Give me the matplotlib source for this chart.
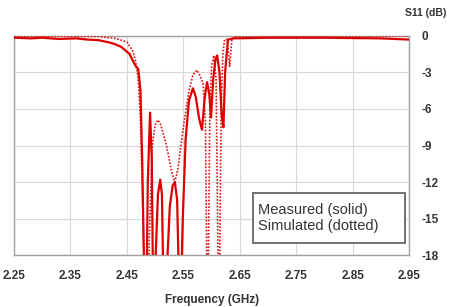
import numpy as np
import matplotlib.pyplot as plt
from matplotlib.patches import Rectangle

# measured S11 (solid), GHz / dB
meas_f = [2.25, 2.28, 2.30, 2.33, 2.36, 2.38, 2.40, 2.41, 2.42, 2.43, 2.44, 2.45,
          2.455, 2.46, 2.466, 2.470, 2.474, 2.477, 2.480, 2.484, 2.487,
          2.491, 2.494, 2.497, 2.501, 2.505, 2.509, 2.512, 2.516, 2.521, 2.526,
          2.531, 2.535, 2.539, 2.544, 2.549, 2.554, 2.560, 2.567, 2.572, 2.578,
          2.583, 2.588, 2.592, 2.596, 2.599, 2.603, 2.607, 2.610, 2.614, 2.618,
          2.621, 2.624, 2.629, 2.64, 2.70, 2.80, 2.90, 2.95]
meas_db = [-0.15, -0.2, -0.15, -0.25, -0.2, -0.3, -0.35, -0.45, -0.55, -0.7, -0.9, -1.3,
           -1.5, -2.0, -2.5, -2.7, -4.5, -10, -18, -24, -12,
           -6.3, -10, -24, -18, -13, -11.8, -13, -24, -19, -14,
           -12.3, -12, -13.5, -24, -15, -8.5, -5.3, -4.3, -5.0, -6.8,
           -7.7, -5, -3.8, -4.8, -6.7, -3.5, -1.9, -1.6, -3, -6.5,
           -7.5, -3, -0.3, -0.2, -0.15, -0.15, -0.2, -0.3]

# simulated S11 (dotted)
sim_f = [2.25, 2.40, 2.43, 2.45, 2.46, 2.465, 2.47, 2.474, 2.478, 2.482, 2.486,
         2.490, 2.495, 2.500, 2.505, 2.51, 2.52, 2.53, 2.535, 2.54, 2.55, 2.56,
         2.567, 2.574, 2.580, 2.585, 2.589, 2.593, 2.597, 2.600, 2.604, 2.608,
         2.613, 2.617, 2.620, 2.623, 2.628, 2.632, 2.636, 2.64, 2.65, 2.95]
sim_db = [0, -0.05, -0.2, -0.5, -1.2, -2, -3.5, -7, -14, -22, -25,
          -16, -9, -7.3, -6.9, -7.3, -9, -11.3, -12, -11, -7.5, -4.5,
          -3.2, -2.8, -3.3, -3.9, -7, -25, -6, -2.5, -1.6, -3.5,
          -25, -6, -1.5, -0.3, -0.3, -2.5, -0.3, -0.1, 0, 0]

xticks = [2.25, 2.35, 2.45, 2.55, 2.65, 2.75, 2.85, 2.95]
yticks = [0, -3, -6, -9, -12, -15, -18]

plt.rcParams['font.family'] = ['Liberation Sans', 'DejaVu Sans']

fig = plt.figure(figsize=(4.54, 3.07), dpi=100)
ax = fig.add_axes([0.031, 0.169, 0.870, 0.714])

ax.plot(sim_f, sim_db, color='#e01010', lw=1.2, ls=(0, (1, 1)), zorder=3)
ax.plot(meas_f, meas_db, color='#dd0000', lw=1.6, zorder=4)

ax.set_xlim(2.25, 2.95)
ax.set_ylim(-18, 0)
ax.set_xticks(xticks)
ax.set_xticklabels(['%.2f' % t for t in xticks], fontsize=8.5, fontweight='bold', color='#333333')
ax.yaxis.tick_right()
ax.set_yticks(yticks)
ax.set_yticklabels([str(t) for t in yticks], fontsize=8.5, fontweight='bold', color='#333333')
ax.tick_params(axis='x', length=0, pad=11)
ax.tick_params(axis='y', length=0, pad=9)
ax.grid(True, color='#d8d8d8', lw=0.8)
ax.set_axisbelow(True)
for s in ax.spines.values():
    s.set_color('#a0a0a0')
    s.set_linewidth(1.0)

ax.set_xlabel('Frequency (GHz)', fontsize=8.5, fontweight='bold', color='#333333', labelpad=8)
fig.text(0.937, 0.958, 'S11 (dB)', fontsize=7.5, fontweight='bold', color='#333333', ha='center', va='center')

# legend box
ax.add_patch(Rectangle((0.605, 0.055), 0.385, 0.228, transform=ax.transAxes,
                       fc='white', ec='#666666', lw=1.3, zorder=5))
ax.text(0.618, 0.169, 'Measured (solid)\nSimulated (dotted)', transform=ax.transAxes,
        fontsize=10.5, color='#333333', va='center', ha='left', linespacing=1.15, zorder=6)

fig.savefig('out.png', dpi=100)
